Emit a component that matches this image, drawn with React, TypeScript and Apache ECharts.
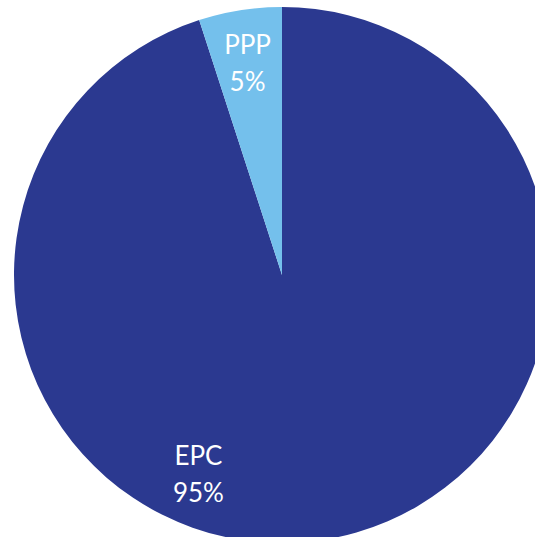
import React, { useEffect, useRef } from "react";
import * as echarts from "echarts";

const categories = ["EPC", "PPP"];
const values = [95, 5];
const colors = ["#2B3990", "#74C0EC"];
const labelOffsets = [
  [-105, 63],
  [-13, -77],
];

export default function App() {
  const ref = useRef<HTMLDivElement>(null);
  useEffect(() => {
    const chart = echarts.init(ref.current!, null, { renderer: "svg" });
    chart.setOption({
      animation: false,
      series: [
        {
          type: "pie",
          center: [282, 275],
          radius: [0, 268],
          startAngle: 90,
          clockwise: true,
          silent: true,
          label: {
            show: true,
            position: "inside",
            formatter: "{b}\n{c}%",
            color: "#ffffff",
            fontFamily: "Lato",
            fontSize: 26,
            lineHeight: 37,
          },
          labelLine: { show: false },
          itemStyle: { borderWidth: 0 },
          data: categories.map((name, i) => ({
            name,
            value: values[i],
            itemStyle: { color: colors[i] },
            label: { offset: labelOffsets[i] },
          })),
        },
      ],
    });
    return () => chart.dispose();
  }, []);
  return (
    <div
      ref={ref}
      style={{ position: "fixed", left: 0, top: 0, width: 535, height: 537, background: "#ffffff" }}
    />
  );
}
